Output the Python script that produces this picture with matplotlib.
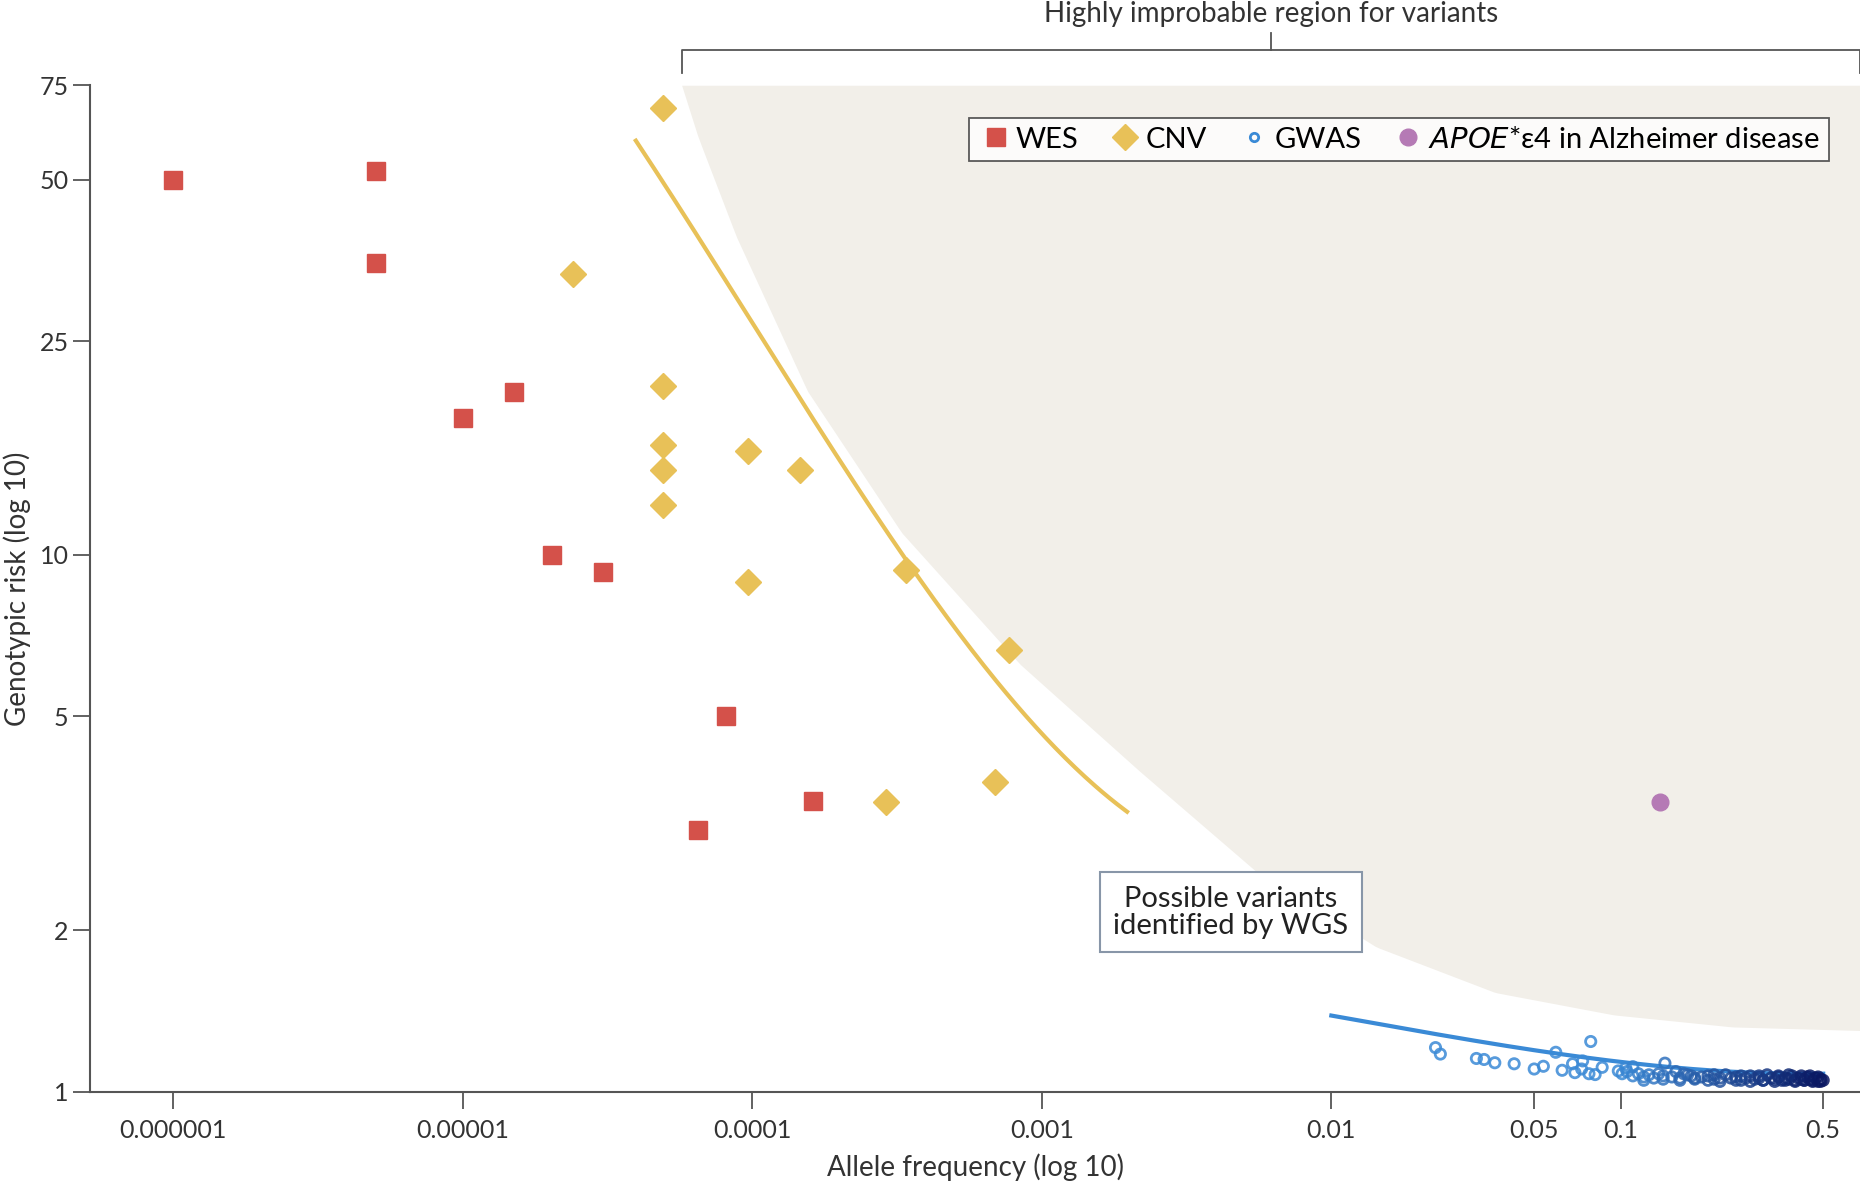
import matplotlib
matplotlib.use("Agg")
import matplotlib.pyplot as plt
import numpy as np

plt.rcParams['font.family'] = ['Lato', 'DejaVu Sans']

wes_x = [1e-6, 5e-6, 5e-6, 1.5e-5, 1e-5, 2.03e-5, 3.05e-5, 8.1e-5, 1.62e-4, 6.5e-5]
wes_y = [50, 52, 35, 20.1, 18, 10, 9.3, 5, 3.48, 3.07]

cnv_x = [4.9e-5, 2.4e-5, 4.9e-5, 4.9e-5, 4.9e-5, 4.9e-5, 9.7e-5, 9.7e-5, 1.46e-4, 3.4e-4, 7.7e-4, 6.9e-4, 2.9e-4]
cnv_y = [67.9, 33.4, 20.6, 16, 14.4, 12.4, 15.6, 8.9, 14.4, 9.36, 6.65, 3.78, 3.46]

apoe_x = [0.136]
apoe_y = [3.46]

gwas_x = [0.0229, 0.0238, 0.0317, 0.0337, 0.0367, 0.0428, 0.0502, 0.054, 0.0596, 0.0627,
          0.0681, 0.0694, 0.0738, 0.0732, 0.0787, 0.0776, 0.0815, 0.0862, 0.098, 0.101,
          0.104, 0.11, 0.142,
          0.105, 0.11, 0.115, 0.12, 0.125, 0.13, 0.135, 0.14, 0.15, 0.155, 0.16, 0.17,
          0.175, 0.18, 0.19, 0.2, 0.21, 0.22, 0.23, 0.24, 0.25, 0.26, 0.27, 0.28, 0.29,
          0.3, 0.31, 0.32, 0.33, 0.34, 0.35, 0.36, 0.37, 0.38, 0.39, 0.4, 0.41, 0.42,
          0.43, 0.44, 0.45, 0.46, 0.47, 0.48, 0.49, 0.5,
          0.12, 0.14, 0.16, 0.18, 0.2, 0.22, 0.25, 0.28, 0.31, 0.34, 0.37, 0.4, 0.43,
          0.46, 0.49, 0.165, 0.21, 0.26, 0.3, 0.35, 0.38, 0.42, 0.45, 0.48]
gwas_y = [1.208, 1.175, 1.153, 1.148, 1.132, 1.127, 1.102, 1.115, 1.184, 1.096,
          1.127, 1.085, 1.141, 1.102, 1.24, 1.08, 1.076, 1.11, 1.093, 1.08,
          1.107, 1.113, 1.13,
          1.09, 1.07, 1.08, 1.065, 1.075, 1.06, 1.08, 1.07, 1.065, 1.09, 1.06, 1.075,
          1.07, 1.06, 1.065, 1.07, 1.055, 1.06, 1.075, 1.06, 1.065, 1.05, 1.06, 1.07,
          1.055, 1.06, 1.05, 1.075, 1.06, 1.055, 1.065, 1.05, 1.06, 1.055, 1.07, 1.05,
          1.06, 1.055, 1.05, 1.065, 1.055, 1.05, 1.06, 1.045, 1.055, 1.05,
          1.05, 1.055, 1.05, 1.055, 1.05, 1.045, 1.05, 1.045, 1.05, 1.045, 1.05, 1.045,
          1.05, 1.045, 1.045, 1.08, 1.075, 1.07, 1.07, 1.07, 1.075, 1.07, 1.07, 1.065]

cnv_line_x = [3.96e-5, 1e-4, 3.4e-4, 1e-3, 1.97e-3]
cnv_line_y = [58.9, 27.4, 9.6, 4.73, 3.3]

gwas_line_x = [0.01, 0.05, 0.1, 0.5]
gwas_line_y = [1.386, 1.195, 1.136, 1.08]

region_x = [5.7e-5, 6.5e-5, 8.8e-5, 1.55e-4, 3.28e-4, 8.4e-4, 2.17e-3, 5.6e-3, 0.0143, 0.0368, 0.0945, 0.243, 0.67]
region_y = [75, 60, 39.2, 20.2, 11, 6.26, 3.96, 2.55, 1.86, 1.53, 1.39, 1.32, 1.30]

xticks = [1e-6, 1e-5, 1e-4, 1e-3, 1e-2, 0.05, 0.1, 0.5]
xticklabels = ['0.000001', '0.00001', '0.0001', '0.001', '0.01', '0.05', '0.1', '0.5']
yticks = [1, 2, 5, 10, 25, 50, 75]
yticklabels = ['1', '2', '5', '10', '25', '50', '75']

fig = plt.figure(figsize=(18.6, 11.84), dpi=100)
ax = fig.add_axes([0.0485, 0.078, 0.9515, 0.85])
ax.set_xscale('log'); ax.set_yscale('log')
ax.set_xlim(10**-6.287, 0.67)
ax.set_ylim(1, 75)

def smooth(xs, ys, n=200, deg=3):
    lx = np.log10(xs); ly = np.log10(ys)
    t = np.linspace(lx[0], lx[-1], n)
    c = np.polyfit(lx, ly, min(deg, len(lx) - 1))
    return 10**t, 10**np.polyval(c, t)

def interp(xs, ys, n=300):
    lx = np.log10(xs); ly = np.log10(ys)
    t = np.linspace(lx[0], lx[-1], n)
    return 10**t, 10**np.interp(t, lx, ly)

rx, ry = interp(region_x, region_y)
ax.fill_between(rx, ry, 75, color='#f2efe9', lw=0, zorder=0)

cx, cy = smooth(cnv_line_x, cnv_line_y)
ax.plot(cx, cy, color='#e8c158', lw=3, zorder=2)
gx, gy = smooth(gwas_line_x, gwas_line_y)
ax.plot(gx, gy, color='#3a8ad6', lw=3, zorder=2)

ax.plot(wes_x, wes_y, 's', color='#d4514a', ms=13, ls='none', zorder=3, label='WES')
ax.plot(cnv_x, cnv_y, 'D', color='#e8c158', ms=13, ls='none', zorder=3, label='CNV')
lg = np.log10(np.array(gwas_x))
frac = np.clip((lg - np.log10(0.1)) / (np.log10(0.5) - np.log10(0.1)), 0, 1)
c0 = np.array([0.23, 0.54, 0.84]); c1 = np.array([0.04, 0.09, 0.38])
cols = [tuple(c0 + (c1 - c0) * f) for f in frac]
ax.scatter(gwas_x, gwas_y, s=55, facecolors='none', edgecolors=cols, linewidths=2, alpha=0.85, zorder=3)
ax.plot([], [], 'o', mfc='none', mec='#3a8ad6', mew=2, ms=6, ls='none', label='GWAS')
ax.plot(apoe_x, apoe_y, 'o', color='#b57ab5', ms=12, ls='none', zorder=3,
        label=r'$\it{APOE}$*ε4 in Alzheimer disease')

for s in ['top', 'right']:
    ax.spines[s].set_visible(False)
for s in ['left', 'bottom']:
    ax.spines[s].set_color('#555555'); ax.spines[s].set_linewidth(1.5)
ax.set_xticks(xticks); ax.set_xticklabels(xticklabels)
ax.set_yticks(yticks); ax.set_yticklabels(yticklabels)
ax.minorticks_off()
ax.tick_params(axis='both', labelsize=18, color='#555555', width=1.3, length=12, labelcolor='#333333')
ax.tick_params(axis='x', pad=8)
ax.set_xlabel('Allele frequency (log 10)', fontsize=20, color='#333333', labelpad=8)
ax.set_ylabel('Genotypic risk (log 10)', fontsize=20, color='#333333', labelpad=6)

leg = ax.legend(loc='upper right', bbox_to_anchor=(0.9905, 0.982), ncol=4, fontsize=21,
                frameon=True, fancybox=False, edgecolor='#333333', handletextpad=0.1,
                columnspacing=1.0, borderpad=0.3, handlelength=1.2)
leg.get_frame().set_linewidth(1.3)

ax.text(4.5e-3, 2.16, 'Possible variants\nidentified by WGS', fontsize=21, color='#222222',
        ha='center', va='center', linespacing=1.05,
        bbox=dict(boxstyle='square,pad=0.45', fc='white', ec='#8896a8', lw=1.5), zorder=4)

by = 75 * 10**(30/452); bt = 75 * 10**(10/452); bc = 75 * 10**(44/452)
bx0, bx1 = region_x[0], region_x[-1]
bm = 10**((np.log10(bx0) + np.log10(bx1)) / 2)
kw = dict(color='#555555', lw=1.3, clip_on=False)
ax.plot([bx0, bx0, bx1, bx1], [bt, by, by, bt], **kw)
ax.plot([bm, bm], [by, bc], **kw)
ax.text(bm, 75 * 10**(60/452), 'Highly improbable region for variants', fontsize=20,
        color='#333333', ha='center', va='center')

fig.savefig('out.png', dpi=100)
